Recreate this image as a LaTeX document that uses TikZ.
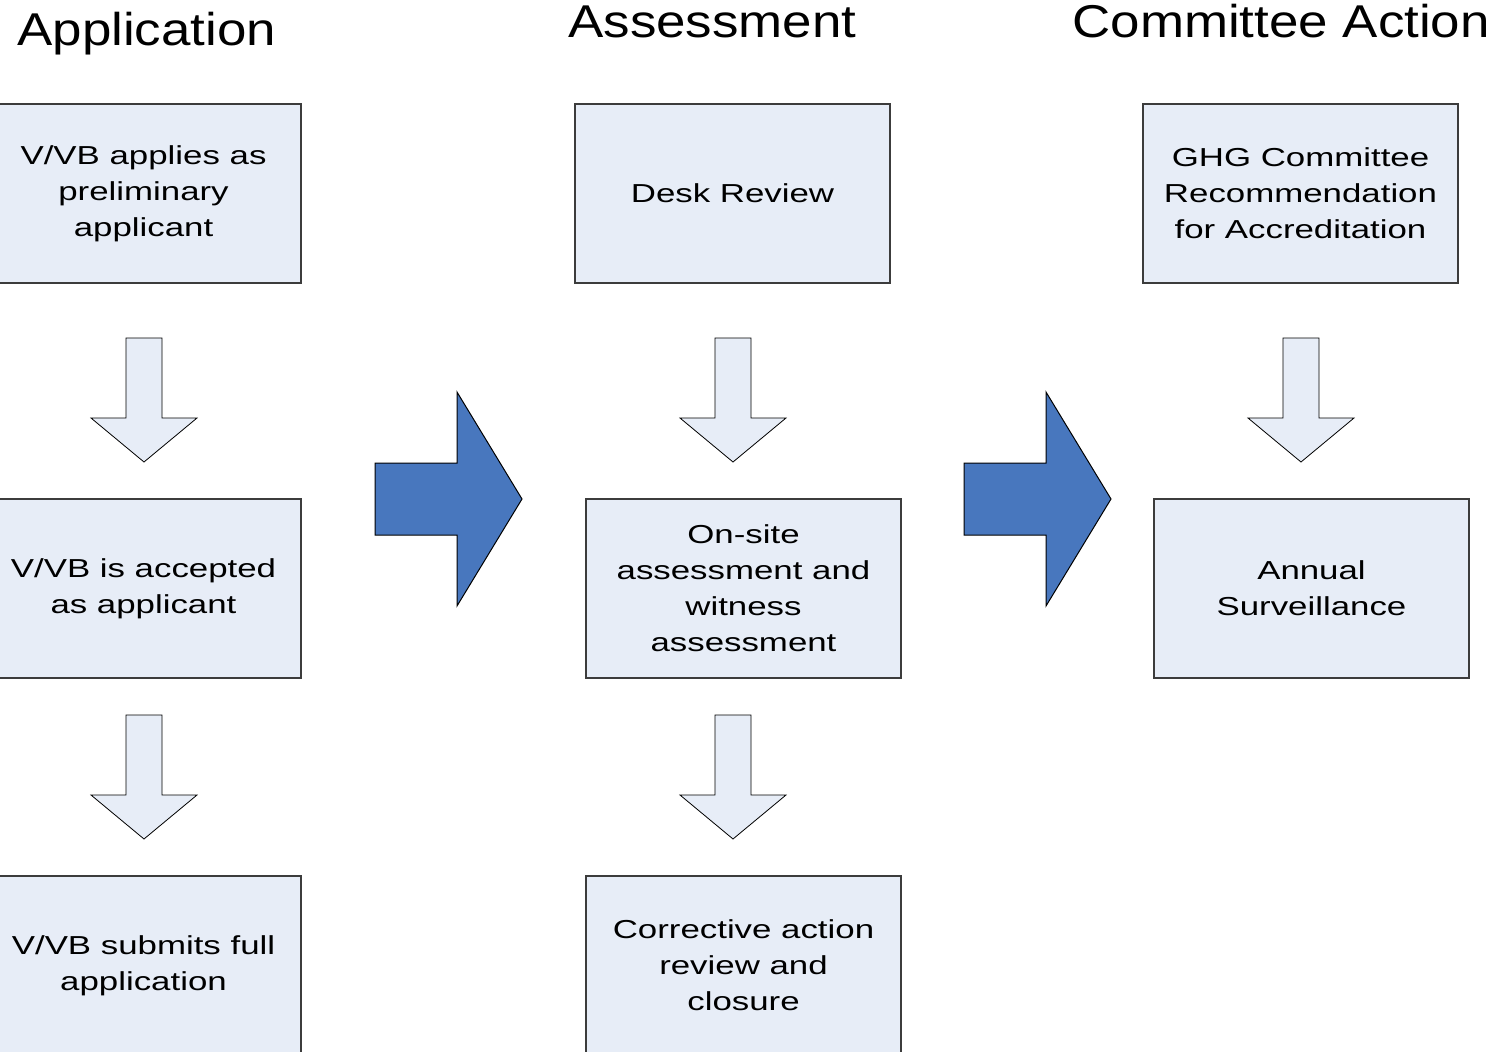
\documentclass[tikz,border=0pt]{standalone}
\usepackage{fontspec}
\setmainfont[FakeStretch=1.34]{Liberation Sans}
\newfontfamily\headfont[FakeStretch=1.15]{Liberation Sans}
\definecolor{boxfill}{RGB}{231,237,247}
\definecolor{stepblue}{RGB}{72,119,190}
\definecolor{boxline}{RGB}{60,60,60}

\tikzset{
  stagebox/.style={draw=boxline, line width=0.6pt, fill=boxfill, rectangle,
    minimum width=157.5pt, minimum height=89.5pt, inner sep=0pt, align=center,
    font=\fontsize{13pt}{18pt}\selectfont},
  heading/.style={anchor=base west, inner sep=0pt, font=\headfont\fontsize{23pt}{26pt}\selectfont},
  arrowfill/.style={draw=black, line width=0.4pt, fill=boxfill, line join=miter},
  bigarrow/.style={draw=black, line width=0.5pt, fill=stepblue},
  % the pic does not take over yscale=-1, so y runs upward in it
  downarr/.pic={
    \draw[arrowfill] (-18,0) -- (18,0) -- (18,-80) -- (53,-80) -- (0,-124) -- (-53,-80) -- (-18,-80) -- cycle;
  }
}

\begin{document}
\begin{tikzpicture}[x=0.5pt,y=0.5pt,yscale=-1]
\clip (0,0) rectangle (1496,1051);
\fill[white] (0,0) rectangle (1496,1051);

% column headings
\node[heading] (hApp) at (17,45) {Application};
\node[heading] (hAss) at (568,37) {Assessment};
\node[heading] (hCom) at (1072,37) {Committee Action};

% Application column
\node[stagebox] (app1) at (143.5,193.5) {V/VB applies as\\preliminary\\applicant};
\node[stagebox] (app2) at (143.5,588.5) {V/VB is accepted\\as applicant};
\node[stagebox] (app3) at (143.5,965.5) {V/VB submits full\\application};

% Assessment column
\node[stagebox] (ass1) at (732.5,193.5) {Desk Review};
\node[stagebox] (ass2) at (743.5,588.5) {On-site\\assessment and\\witness\\assessment};
\node[stagebox] (ass3) at (743.5,965.5) {Corrective action\\review and\\closure};

% Committee column
\node[stagebox] (com1) at (1300.5,193.5) {GHG Committee\\Recommendation\\for Accreditation};
\node[stagebox] (com2) at (1311.5,588.5) {Annual\\Surveillance};

% down arrows
\pic at (144,338) {downarr};
\pic at (144,715) {downarr};
\pic at (733,338) {downarr};
\pic at (733,715) {downarr};
\pic at (1301,338) {downarr};

% big arrows between columns
\draw[bigarrow] (375,463) -- (457,463) -- (457,392) -- (522,499) -- (457,606) -- (457,535) -- (375,535) -- cycle;
\draw[bigarrow] (964,463) -- (1046,463) -- (1046,392) -- (1111,499) -- (1046,606) -- (1046,535) -- (964,535) -- cycle;

\end{tikzpicture}
\end{document}
